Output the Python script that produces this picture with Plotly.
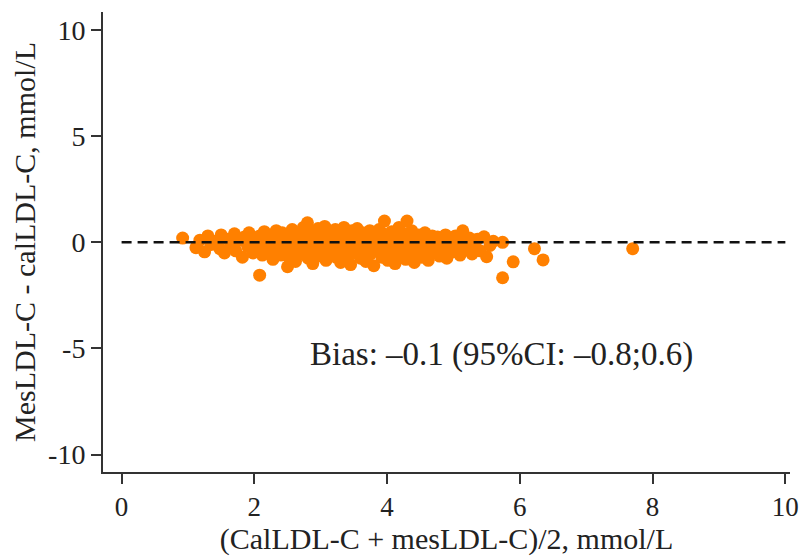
import plotly.graph_objects as go

# Bland-Altman data: mean of the two methods (x) and difference (y), mmol/L
mean_vals = [
    0.92, 1.12, 1.18, 1.25, 1.30, 1.35, 1.42, 1.48, 1.50, 1.55, 1.60,
    1.65, 1.70, 1.72, 1.78, 1.82, 1.85, 1.90, 1.92, 1.98, 2.00, 2.05, 2.08, 2.12, 2.15, 2.18, 2.20,
    2.08, 2.22, 2.25, 2.28, 2.30, 2.33, 2.36, 2.38, 2.40, 2.42, 2.45, 2.47, 2.50, 2.52, 2.55, 2.57,
    2.60, 2.62, 2.64, 2.67, 2.69, 2.50,
    2.70, 2.72, 2.74, 2.76, 2.78, 2.80, 2.81, 2.83, 2.85, 2.87, 2.88, 2.90, 2.92, 2.94, 2.96, 2.97,
    2.99, 3.00, 3.02, 3.03, 3.05, 3.06, 3.08, 3.10, 3.11, 3.13, 3.15, 3.16, 3.18, 3.20,
    3.22, 3.23, 3.25, 3.27, 3.28, 3.30, 3.32, 3.33, 3.35, 3.37, 3.38, 3.40, 3.42, 3.43, 3.45, 3.47,
    3.48, 3.50, 3.52, 3.53, 3.55, 3.57, 3.58, 3.60, 3.62, 3.63, 3.65, 3.67, 3.68, 3.70,
    3.72, 3.74, 3.75, 3.77, 3.79, 3.80, 3.82, 3.84, 3.86, 3.88, 3.90, 3.92, 3.94, 3.96, 3.97, 3.99,
    4.01, 4.03, 4.05, 4.07, 4.09, 4.10, 4.12, 4.14, 4.16, 4.18, 4.20,
    4.22, 4.24, 4.26, 4.28, 4.30, 4.31, 4.33, 4.35, 4.37, 4.39, 4.41, 4.43, 4.45, 4.47, 4.50, 4.52,
    4.55, 4.57, 4.60, 4.62, 4.65, 4.68, 4.70, 4.73, 4.76, 4.79,
    4.82, 4.85, 4.88, 4.90, 4.93, 4.96, 5.00, 5.03, 5.06, 5.10, 5.14, 5.17, 5.20, 5.24, 5.28, 5.32,
    5.36, 5.40, 5.46, 5.50, 5.55, 5.60,
    5.74, 5.74, 5.90, 6.22, 6.35, 7.70,
]
diff_vals = [
    0.20, -0.25, 0.10, -0.45, 0.30, -0.10, 0.05, -0.30, 0.35, -0.50, 0.15,
    -0.15, 0.40, -0.40, 0.10, -0.70, 0.25, -0.20, 0.45, -0.50, 0.05, -0.35, 0.30, -0.60, 0.50, -0.10, 0.20,
    -1.55, -0.45, 0.35, -0.80, 0.00, 0.55, -0.25, 0.20, -0.60, 0.45, -0.05, -0.40, 0.30, -0.70, 0.10, 0.60,
    -0.30, -0.90, 0.25, -0.15, 0.45, -1.15,
    -0.55, 0.05, 0.70, -0.35, 0.30, 0.92, -0.75, 0.15, -0.20, 0.50, -1.00, 0.00, 0.35, -0.45, 0.65, -0.10,
    0.20, -0.65, 0.45, -0.30, 0.10, 0.75, -0.85, 0.25, -0.15, 0.55, -0.50, 0.05, 0.35, -0.25,
    0.60, -0.70, 0.15, -0.05, 0.40, -0.95, 0.25, -0.40, 0.70, 0.00, -0.20, 0.45, -0.60, 0.20, -1.05, 0.55,
    -0.30, 0.10, 0.35, -0.50, 0.65, -0.10, 0.25, -0.75, 0.05, 0.45, -0.35, 0.15, -0.90, 0.30,
    -0.20, 0.55, -0.55, 0.10, 0.35, -1.10, -0.05, 0.25, -0.40, 0.60, 0.00, -0.70, 0.40, 1.00, -0.25, 0.15,
    -0.85, 0.30, -0.10, 0.50, -0.45, 0.05, -1.00, 0.20, -0.30, 0.70, -0.60,
    0.10, 0.40, -0.15, -0.80, 1.00, 0.25, -0.45, 0.00, 0.55, -0.25, -0.95, 0.20, -0.55, 0.35, -0.10, -0.70,
    0.15, 0.45, -0.35, -0.85, 0.05, 0.30, -0.50, -0.15, 0.25, -0.65,
    0.10, -0.30, 0.35, -0.75, -0.05, 0.20, -0.45, 0.30, -0.20, -0.60, 0.54, 0.05, -0.35, 0.20, -0.55, -0.10,
    0.15, -0.40, 0.26, -0.68, -0.15, 0.05,
    0.00, -1.67, -0.92, -0.30, -0.83, -0.30,
]

bias = -0.1
ci_low = -0.8
ci_high = 0.6
ref_x = [0, 10]
ref_y = [0, 0]

x_ticks = [0, 2, 4, 6, 8, 10]
y_ticks = [-10, -5, 0, 5, 10]

font_family = "Liberation Serif, Times New Roman, serif"
axis_col = "#333333"

fig = go.Figure()
fig.add_trace(go.Scatter(
    x=mean_vals, y=diff_vals, mode="markers",
    marker=dict(color="#ff8000", size=13, line=dict(width=0)),
    showlegend=False, hoverinfo="x+y",
))
fig.add_trace(go.Scatter(
    x=ref_x, y=ref_y, mode="lines",
    line=dict(color="#111111", width=2.5, dash="10px,6px"),
    showlegend=False, hoverinfo="skip",
))

fig.add_annotation(
    x=5.73, y=-5.3, xref="x", yref="y", showarrow=False,
    text=f"Bias: \u2013{abs(bias):.1f} (95%CI: \u2013{abs(ci_low):.1f};{ci_high:.1f})",
    font=dict(family=font_family, size=33, color="#222222"),
)

fig.update_layout(
    width=802, height=548,
    margin=dict(l=95, r=20, t=4, b=84),
    paper_bgcolor="white", plot_bgcolor="white",
    font=dict(family=font_family, size=28, color="#222222"),
)
fig.update_xaxes(
    range=[-0.28, 10.07], tickvals=x_ticks, ticktext=[str(v) for v in x_ticks],
    showgrid=False, zeroline=False, showline=True, linecolor=axis_col, linewidth=2,
    ticks="outside", ticklen=10, tickwidth=2, tickcolor=axis_col,
    title=dict(text="(CalLDL-C + mesLDL-C)/2, mmol/L", font=dict(size=30), standoff=6),
    tickfont=dict(size=27),
)
fig.update_yaxes(
    range=[-10.82, 10.85], tickvals=y_ticks, ticktext=[str(v) for v in y_ticks],
    showgrid=False, zeroline=False, showline=True, linecolor=axis_col, linewidth=2,
    ticks="outside", ticklen=10, tickwidth=2, tickcolor=axis_col,
    title=dict(text="MesLDL-C - calLDL-C, mmol/L", font=dict(size=30), standoff=8),
    tickfont=dict(size=28),
)

fig.write_html("out.html")
